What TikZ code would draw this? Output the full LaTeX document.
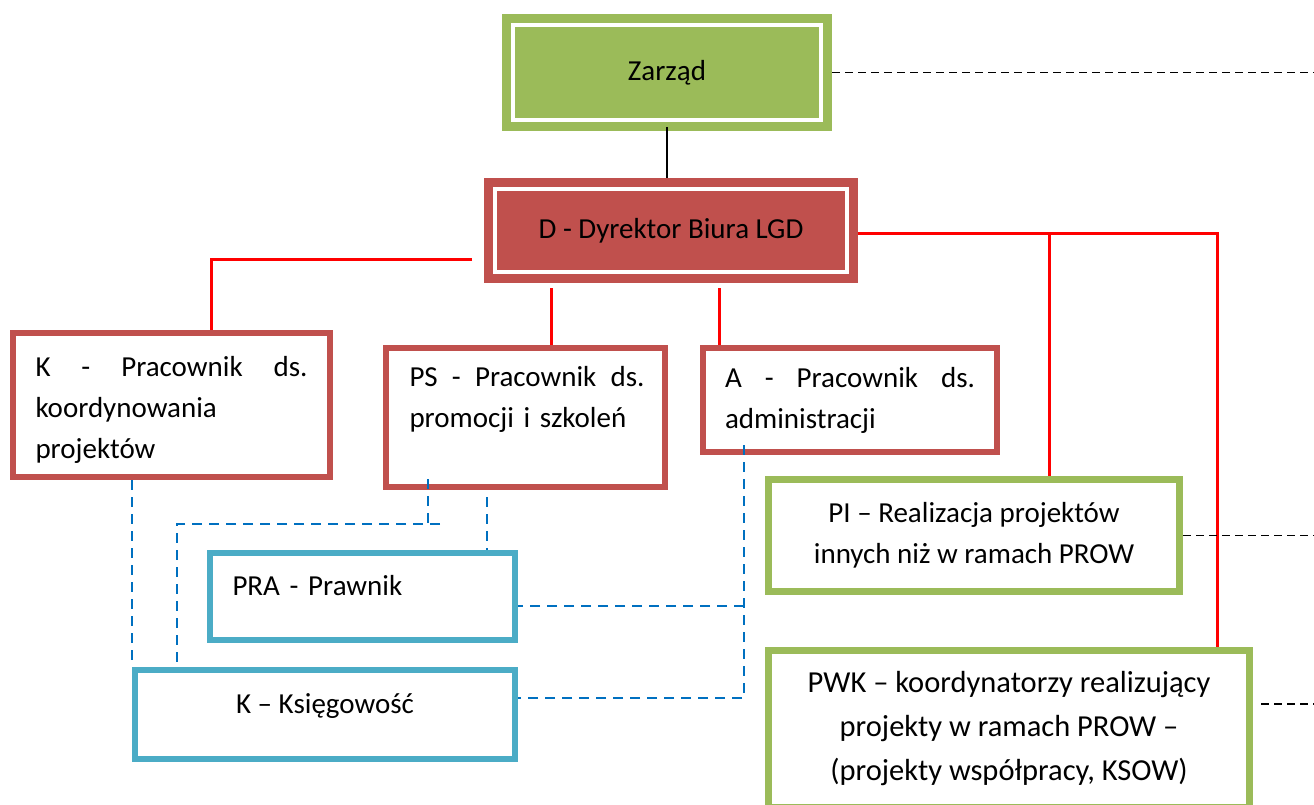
\documentclass[tikz,border=0pt]{standalone}
\usepackage{fontspec}
\setmainfont{Carlito}
\definecolor{verdecaja}{HTML}{9BBB59}
\definecolor{rojocaja}{HTML}{C0504D}
\definecolor{azulcaja}{HTML}{4BACC6}
\definecolor{azulenlace}{HTML}{0070C0}
\begin{document}
\begin{tikzpicture}[x=1pt, y=-1pt,
  font=\fontsize{29}{41}\selectfont,
  cabeza/.style={draw=#1, fill=#1, double=white, double distance=4pt,
    line width=9pt, outer sep=11pt, inner sep=0pt},
  caja/.style={draw=#1, fill=white, line width=6pt, inner sep=0pt},
  lineaoja/.style={draw=red, line width=3pt},
  enlace/.style={draw=azulenlace, line width=2.5pt, dash pattern=on 10pt off 7pt},
  puntos/.style={draw=black, line width=1.5pt, dash pattern=on 8pt off 5pt}]
  \useasboundingbox (0,0) rectangle (1314,805);

  % Cajas superiores
  \node[cabeza=verdecaja, minimum width=308, minimum height=95] (zarzad) at (667,72.5) {Zarząd};
  \node[cabeza=rojocaja, minimum width=352, minimum height=83] (dyrektor) at (671,230.5) {D - Dyrektor Biura LGD};

  % Pracownicy biura
  \node[caja=rojocaja, minimum width=317, minimum height=144, text width=272, align=left] (kkoord) at (171.5,405)
    {\makebox[272pt][s]{\rule{0pt}{30pt}K\hfill-\hfill Pracownik\hfill ds.}\\koordynowania\\projektów};
  \node[caja=rojocaja, minimum width=279, minimum height=139, text width=238, align=left] (ps) at (525.5,417.5)
    {\makebox[238pt][s]{\hspace{3pt}PS\hfill-\hfill Pracownik\hfill ds.}\\\hspace{3pt}promocji i szkoleń\\\mbox{}};
  \node[caja=rojocaja, minimum width=294, minimum height=104, text width=250, align=left] (adm) at (850,400)
    {\makebox[250pt][s]{A\hfill-\hfill Pracownik\hfill ds.}\\administracji};

  % Projekty
  \node[caja=verdecaja, line width=7pt, minimum width=411, minimum height=112, align=center] (pi) at (974,535.5)
    {PI – Realizacja projektów\\innych niż w ramach PROW};
  \node[caja=verdecaja, line width=7pt, minimum width=481, minimum height=157, align=center,
    font=\fontsize{30.5}{44}\selectfont] (pwk) at (1009,729)
    {PWK – koordynatorzy realizujący\\projekty w ramach PROW –\\(projekty współpracy, KSOW)};

  % Prawnik i ksiegowosc
  \node[caja=azulcaja, minimum width=305, minimum height=87, text width=260, align=left,
    text height=20pt, text depth=22pt] (pra) at (362.5,596.5) {PRA - Prawnik};
  \node[caja=azulcaja, minimum width=380, minimum height=89, align=center,
    text height=20pt, text depth=22pt] (ksieg) at (325,714.5) {K – Księgowość};

  % Puntos de union
  \coordinate (borde) at (1314,0);
  \coordinate (rjoin) at (1217,233);
  \coordinate (pijoin) at (1049,233);
  \coordinate (ljoin) at (472,259);
  \coordinate (kjoin) at (211,259);
  \coordinate (psjoin) at (551,288);
  \coordinate (ajoin) at (719,288);
  \coordinate (psleft) at (428,479);
  \coordinate (bend) at (177,524);
  \coordinate (psright) at (487,497);
  \coordinate (adown) at (744,445);
  \coordinate (amid) at (744,606);
  \coordinate (acorner) at (744,698);
  \coordinate (pwkout) at (1261,704);

  % Zarzad - dyrektor
  \draw[line width=1.5pt] ([yshift=4pt]zarzad.south) -- (zarzad.south |- dyrektor.north);

  % Lineas rojas
  \draw[lineaoja] (dyrektor.east |- rjoin) -- (rjoin) -- (rjoin |- pwk.north);
  \draw[lineaoja] (pijoin) -- (pijoin |- pi.north);
  \draw[lineaoja] (ljoin) -- (kjoin) -- (kjoin |- kkoord.north);
  \draw[lineaoja] (psjoin) -- (psjoin |- ps.north);
  \draw[lineaoja] (ajoin) -- (ajoin |- adm.north);

  % Enlaces azules
  \draw[enlace] (ksieg.north west |- kkoord.south) -- (ksieg.north west);
  \draw[enlace] (psleft) -- (psleft |- bend);
  \draw[enlace] ([xshift=12pt]psleft |- bend) -- (bend) -- (bend |- ksieg.north);
  \draw[enlace] (psright) -- (psright |- pra.north);
  \draw[enlace] (adown) -- (acorner) -- (acorner -| ksieg.east);
  \draw[enlace] (amid) -- (amid -| pra.east);

  % Lineas punteadas hacia la derecha
  \draw[puntos] (zarzad.east) -- (zarzad.east -| borde);
  \draw[puntos] (pi.east) -- (pi.east -| borde);
  \draw[puntos] (pwkout) -- (pwkout -| borde);
\end{tikzpicture}
\end{document}
